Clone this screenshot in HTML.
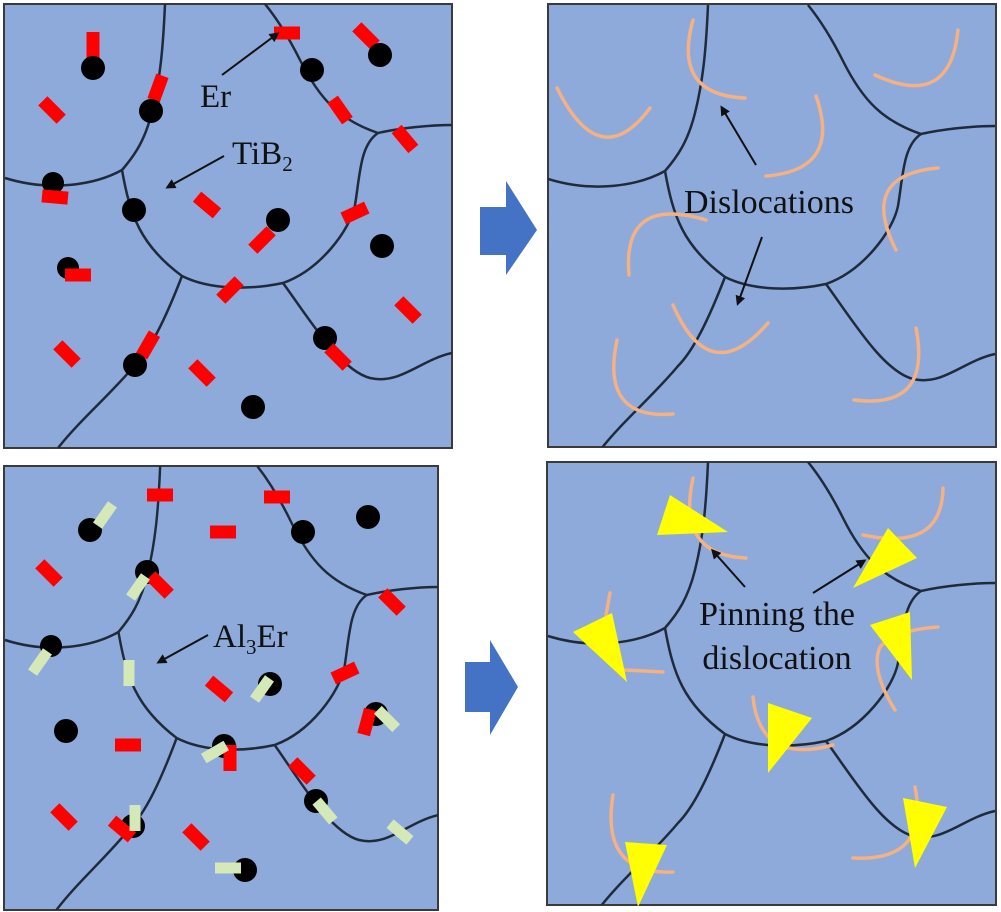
<!DOCTYPE html>
<html><head><meta charset="utf-8"><style>
html,body{margin:0;padding:0;background:#fff;}
svg{display:block;}
text{font-family:"Liberation Serif",serif;fill:#111;}
</style></head><body>
<svg width="1001" height="912" viewBox="0 0 1001 912" xmlns="http://www.w3.org/2000/svg">
<defs>
<g id="net" fill="none" stroke="#1f2a3a" stroke-width="2.5">
<path d="M165,4 C163,50 160,80 152,112 C145,140 135,155 122,170"/>
<path d="M122,170 C95,185 50,192 5,178"/>
<path d="M122,170 C130,215 140,245 182,276 C210,290 250,290 283,283 C320,270 350,230 355,205 C360,175 360,145 378,133"/>
<path d="M378,133 C400,128 430,125 452,125"/>
<path d="M378,133 C340,120 320,100 300,60 C290,40 278,20 265,4"/>
<path d="M182,276 C165,320 150,350 135,365 C110,395 80,420 58,448"/>
<path d="M283,283 C310,320 340,370 370,378 C400,385 420,360 452,353"/>
</g>
<marker id="ah" markerWidth="10" markerHeight="10" refX="7" refY="5" orient="auto" markerUnits="userSpaceOnUse"><path d="M0,0 L10,5 L0,10 Z" fill="#111"/></marker>
<clipPath id="c1"><rect x="4" y="4" width="448" height="444"/></clipPath>
<clipPath id="c2"><rect x="548" y="4" width="448" height="443"/></clipPath>
<clipPath id="c3"><rect x="4" y="466" width="434" height="444"/></clipPath>
<clipPath id="c4"><rect x="547" y="462" width="449" height="443"/></clipPath>
</defs>

<rect x="4" y="4" width="448" height="444" fill="#8eaadb" stroke="#3a3a3a" stroke-width="2"/>
<rect x="548" y="4" width="448" height="443" fill="#8eaadb" stroke="#3a3a3a" stroke-width="2"/>
<rect x="4" y="466" width="434" height="444" fill="#8eaadb" stroke="#3a3a3a" stroke-width="2"/>
<rect x="547" y="462" width="449" height="443" fill="#8eaadb" stroke="#3a3a3a" stroke-width="2"/>

<g clip-path="url(#c1)"><use href="#net"/></g>
<g clip-path="url(#c2)"><use href="#net" transform="translate(543,1)"/></g>
<g clip-path="url(#c3)"><use href="#net" transform="translate(4,466) scale(0.97,1) translate(-4,-4)"/></g>
<g clip-path="url(#c4)"><use href="#net" transform="translate(543,458)"/></g>

<path d="M480,207 L506,207 L506,181 L537,230 L506,275 L506,255 L480,255 Z" fill="#4472c4"/>
<path d="M465,662 L490,662 L490,640 L518,687 L490,735 L490,712 L465,712 Z" fill="#4472c4"/>

<g fill="#ff0000">
<rect x="-6.5" y="-13" width="13" height="26" transform="translate(93,45)"/>
<rect x="-6.5" y="-13" width="13" height="26" transform="translate(52,110) rotate(-45)"/>
<rect x="-6.5" y="-13" width="13" height="26" transform="translate(158,88) rotate(20)"/>
<rect x="-13" y="-6.5" width="26" height="13" transform="translate(287,33)"/>
<rect x="-6.5" y="-13" width="13" height="26" transform="translate(366,36) rotate(-45)"/>
<rect x="-6.5" y="-13" width="13" height="26" transform="translate(340,110) rotate(-35)"/>
<rect x="-6.5" y="-13" width="13" height="26" transform="translate(405,139) rotate(-40)"/>
<rect x="-6.5" y="-13" width="13" height="26" transform="translate(207,205) rotate(-50)"/>
<rect x="-13" y="-6.5" width="26" height="13" transform="translate(355,213) rotate(-25)"/>
<rect x="-6.5" y="-13" width="13" height="26" transform="translate(230,290) rotate(45)"/>
<rect x="-6.5" y="-13" width="13" height="26" transform="translate(148,345) rotate(30)"/>
<rect x="-6.5" y="-13" width="13" height="26" transform="translate(408,310) rotate(-45)"/>
<rect x="-6.5" y="-13" width="13" height="26" transform="translate(67,354) rotate(-45)"/>
<rect x="-6.5" y="-13" width="13" height="26" transform="translate(202,373) rotate(-45)"/>
</g>
<g fill="#000">
<circle cx="93" cy="68" r="12"/><circle cx="151" cy="111" r="12"/><circle cx="53" cy="183" r="11"/>
<circle cx="134" cy="210" r="12"/><circle cx="312" cy="70" r="12"/><circle cx="380" cy="55" r="12"/>
<circle cx="278" cy="220" r="12"/><circle cx="382" cy="246" r="12"/><circle cx="68" cy="268" r="11"/>
<circle cx="135" cy="365" r="12"/><circle cx="325" cy="338" r="12"/><circle cx="253" cy="407" r="12"/>
</g>
<g fill="#ff0000">
<rect x="-13" y="-6.5" width="26" height="13" transform="translate(55,197) rotate(5)"/>
<rect x="-13" y="-6.5" width="26" height="13" transform="translate(78,275)"/>
<rect x="-6.5" y="-13" width="13" height="26" transform="translate(262,240) rotate(45)"/>
<rect x="-6.5" y="-13" width="13" height="26" transform="translate(338,357) rotate(-45)"/>
</g>
<line x1="222" y1="75" x2="277" y2="34" stroke="#111" stroke-width="2" marker-end="url(#ah)"/>
<line x1="224" y1="156" x2="168" y2="187" stroke="#111" stroke-width="2" marker-end="url(#ah)"/>
<text x="200" y="107" font-size="33">Er</text>
<text x="232" y="164" font-size="33">TiB<tspan font-size="21" dy="7">2</tspan></text>

<g fill="none" stroke="#f4b183" stroke-width="3.5" stroke-linecap="round">
<path d="M693,20 Q672,95 745,98"/>
<path d="M557,88 Q600,175 650,108"/>
<path d="M816,96 Q842,170 766,176"/>
<path d="M875,75 Q950,110 958,30"/>
<path d="M938,168 Q858,175 896,250"/>
<path d="M706,220 Q622,195 629,275"/>
<path d="M673,305 Q710,390 768,323"/>
<path d="M617,340 Q600,420 673,414"/>
<path d="M916,328 Q932,410 854,400"/>
</g>
<line x1="756" y1="165" x2="722" y2="108" stroke="#111" stroke-width="2" marker-end="url(#ah)"/>
<line x1="762" y1="237" x2="738" y2="303" stroke="#111" stroke-width="2" marker-end="url(#ah)"/>
<text x="769" y="213" font-size="34" text-anchor="middle">Dislocations</text>

<g fill="#000">
<circle cx="90" cy="530" r="12"/><circle cx="147" cy="572" r="12"/><circle cx="51" cy="646" r="11"/>
<circle cx="303" cy="532" r="12"/><circle cx="368" cy="517" r="12"/><circle cx="270" cy="684" r="12"/>
<circle cx="376" cy="714" r="12"/><circle cx="66" cy="731" r="12"/><circle cx="224" cy="746" r="12"/>
<circle cx="316" cy="801" r="12"/><circle cx="133" cy="826" r="12"/><circle cx="245" cy="870" r="12"/>
</g>
<g fill="#ff0000">
<rect x="-13" y="-6.5" width="26" height="13" transform="translate(160,495)"/>
<rect x="-13" y="-6.5" width="26" height="13" transform="translate(277,497)"/>
<rect x="-13" y="-6.5" width="26" height="13" transform="translate(223,532)"/>
<rect x="-6.5" y="-13" width="13" height="26" transform="translate(49,573) rotate(-45)"/>
<rect x="-6.5" y="-13" width="13" height="26" transform="translate(160,585) rotate(-45)"/>
<rect x="-6.5" y="-13" width="13" height="26" transform="translate(392,602) rotate(-45)"/>
<rect x="-13" y="-6.5" width="26" height="13" transform="translate(345,673) rotate(-25)"/>
<rect x="-6.5" y="-13" width="13" height="26" transform="translate(219,689) rotate(-50)"/>
<rect x="-6.5" y="-13" width="13" height="26" transform="translate(367,722) rotate(15)"/>
<rect x="-13" y="-6.5" width="26" height="13" transform="translate(128,745)"/>
<rect x="-6.5" y="-13" width="13" height="26" transform="translate(230,758)"/>
<rect x="-6.5" y="-13" width="13" height="26" transform="translate(302,771) rotate(-45)"/>
<rect x="-6.5" y="-13" width="13" height="26" transform="translate(64,817) rotate(-45)"/>
<rect x="-6.5" y="-13" width="13" height="26" transform="translate(122,829) rotate(-50)"/>
<rect x="-6.5" y="-13" width="13" height="26" transform="translate(196,837) rotate(-45)"/>
</g>
<g fill="#d4e8b8">
<rect x="-5.5" y="-13" width="11" height="26" transform="translate(105,515) rotate(35)"/>
<rect x="-5.5" y="-13" width="11" height="26" transform="translate(138,587) rotate(35)"/>
<rect x="-5.5" y="-13" width="11" height="26" transform="translate(40,662) rotate(35)"/>
<rect x="-5.5" y="-13" width="11" height="26" transform="translate(129,673)"/>
<rect x="-5.5" y="-13" width="11" height="26" transform="translate(262,689) rotate(35)"/>
<rect x="-5.5" y="-13" width="11" height="26" transform="translate(387,719) rotate(-45)"/>
<rect x="-5.5" y="-13" width="11" height="26" transform="translate(215,752) rotate(60)"/>
<rect x="-5.5" y="-13" width="11" height="26" transform="translate(135,818)"/>
<rect x="-5.5" y="-13" width="11" height="26" transform="translate(325,811) rotate(-40)"/>
<rect x="-5.5" y="-13" width="11" height="26" transform="translate(400,832) rotate(-50)"/>
<rect x="-13" y="-5.5" width="26" height="11" transform="translate(228,868)"/>
</g>
<line x1="208" y1="635" x2="159" y2="662" stroke="#111" stroke-width="2" marker-end="url(#ah)"/>
<text x="213" y="647" font-size="33">Al<tspan font-size="21" dy="7">3</tspan><tspan dy="-7">Er</tspan></text>

<g fill="none" stroke="#f4b183" stroke-width="3.5" stroke-linecap="round">
<path d="M693,478 Q676,555 746,558"/>
<path d="M943,488 Q942,552 863,535"/>
<path d="M610,593 L606,615"/>
<path d="M625,670 L663,672"/>
<path d="M938,627 Q895,630 880,647 Q870,670 895,710"/>
<path d="M753,697 Q760,765 833,745"/>
<path d="M613,795 Q600,875 673,872"/>
<path d="M915,787 Q930,862 853,858"/>
</g>
<g fill="#ffff00">
<polygon points="657,535 670,495 728,532"/>
<polygon points="888,528 917,558 853,588"/>
<polygon points="573,632 612,613 627,682"/>
<polygon points="870,625 910,612 912,680"/>
<polygon points="768,703 812,718 768,773"/>
<polygon points="903,798 947,807 915,868"/>
<polygon points="625,842 667,845 638,907"/>
</g>
<line x1="745" y1="587" x2="713" y2="551" stroke="#111" stroke-width="2" marker-end="url(#ah)"/>
<line x1="813" y1="593" x2="864" y2="561" stroke="#111" stroke-width="2" marker-end="url(#ah)"/>
<text x="777" y="625" font-size="34" text-anchor="middle">Pinning the</text>
<text x="777" y="669" font-size="34" text-anchor="middle">dislocation</text>
</svg>
</body></html>
